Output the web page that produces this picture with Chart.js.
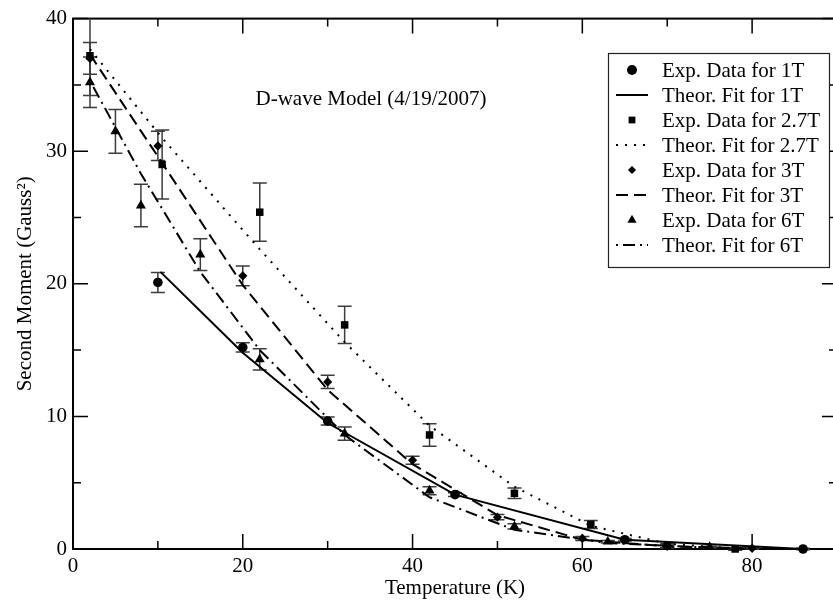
<!DOCTYPE html>
<html>
<head>
<meta charset="utf-8">
<title>Second Moment vs Temperature</title>
<script src="https://cdn.jsdelivr.net/npm/chart.js@4.4.1/dist/chart.umd.min.js"></script>
<style>
  html, body { margin: 0; padding: 0; background: #fff; overflow: hidden; }
  #wrap { width: 845px; height: 602px; }
</style>
</head>
<body>
<div id="wrap"><canvas id="momentChart" width="845" height="602"></canvas></div>
<script>
// --- data ---
const X_TICKS = [0, 20, 40, 60, 80];
const X_MINOR = [10, 30, 50, 70, 90];
const Y_TICKS = [0, 10, 20, 30, 40];
const Y_MINOR = [5, 15, 25, 35];

// 1T
const T_1T = [10, 20, 30, 45, 65, 86];
const M_1T = [20.1, 15.2, 9.65, 4.1, 0.7, 0.0];
const E_1T = [0.75, 0.35, 0.3, 0.15, 0.1, 0.05];
const FIT_T_1T = [10.3, 20, 30, 45, 65, 86];
const FIT_1T = [20.9, 14.8, 9.5, 4.1, 0.7, 0.0];

// 2.7T
const T_27T = [2, 10.5, 22, 32, 42, 52, 61, 70, 78];
const M_27T = [37.2, 29.0, 25.4, 16.9, 8.6, 4.2, 1.85, 0.25, 0.0];
const E_27T = [3.0, 2.6, 2.2, 1.4, 0.85, 0.4, 0.3, 0.15, 0.1];
const FIT_T_27T = [2, 10.5, 22, 32, 42, 52, 61, 70, 78];
const FIT_27T = [37.7, 31.0, 22.6, 15.6, 9.3, 4.7, 1.75, 0.4, 0.05];

// 3T
const T_3T = [2, 10, 20, 30, 40, 50, 60, 70, 80];
const M_3T = [37.0, 30.4, 20.6, 12.6, 6.7, 2.4, 0.8, 0.2, 0.05];
const E_3T = [1.2, 1.1, 0.75, 0.5, 0.3, 0.2, 0.15, 0.1, 0.05];
const FIT_T_3T = [2, 10, 20, 30, 40, 50, 60, 70, 80];
const FIT_3T = [37.3, 29.6, 19.9, 12.0, 6.4, 2.55, 0.7, 0.2, 0.05];

// 6T
const T_6T = [2, 5, 8, 15, 22, 32, 42, 52, 63, 75];
const M_6T = [35.2, 31.5, 25.9, 22.2, 14.3, 8.7, 4.4, 1.7, 0.55, 0.15];
const E_6T = [1.9, 1.65, 1.6, 1.2, 0.8, 0.5, 0.3, 0.2, 0.1, 0.05];
const FIT_T_6T = [2, 5, 8, 15, 22, 32, 42, 52, 63, 75];
const FIT_6T = [35.3, 31.8, 28.3, 20.9, 15.0, 8.6, 3.9, 1.45, 0.45, 0.1];

const NOTE_TEXT = 'D-wave Model (4/19/2007)';
const NOTE_AT = { x: 21.5, y: 33.9 }; // in data units

const SERIF = '"Liberation Serif", "DejaVu Serif", serif';

function pts(xs, ys) {
    return xs.map((x, i) => ({ x: x, y: ys[i] }));
}

function expSet(label, xs, ys, errs, style, radius) {
    return {
        label: label,
        data: pts(xs, ys),
        errors: errs,
        showLine: false,
        pointStyle: style,
        pointRadius: radius,
        pointBackgroundColor: '#000',
        pointBorderWidth: 0,
        clip: false
    };
}

function fitSet(label, xs, ys, dash) {
    return {
        label: label,
        data: pts(xs, ys),
        showLine: true,
        borderColor: '#000',
        borderWidth: 2,
        borderDash: dash,
        pointRadius: 0,
        tension: 0,
        clip: false
    };
}

// marker shapes, shared by legend
function drawMarker(ctx, style, cx, cy, r) {
    ctx.beginPath();
    if (style === 'circle') {
        ctx.arc(cx, cy, r, 0, Math.PI * 2);
    } else if (style === 'rect') {
        const s = r * Math.SQRT1_2;
        ctx.rect(cx - s, cy - s, 2 * s, 2 * s);
    } else if (style === 'rectRot') {
        ctx.moveTo(cx, cy - r); ctx.lineTo(cx + r, cy);
        ctx.lineTo(cx, cy + r); ctx.lineTo(cx - r, cy);
        ctx.closePath();
    } else if (style === 'triangle') {
        const h = r * Math.sqrt(3) / 2;
        ctx.moveTo(cx, cy - r); ctx.lineTo(cx + h, cy + r / 2);
        ctx.lineTo(cx - h, cy + r / 2);
        ctx.closePath();
    }
    ctx.fill();
}

// --- error bars, drawn under the markers ---
const errorBars = {
    id: 'errorBars',
    beforeDatasetsDraw(chart) {
        const { ctx, chartArea: a, scales: { x, y } } = chart;
        ctx.save();
        ctx.beginPath();
        ctx.rect(a.left, a.top, a.right - a.left, a.bottom - a.top + 2);
        ctx.clip();
        ctx.strokeStyle = '#3c3c3c';
        ctx.lineWidth = 1.5;
        chart.data.datasets.forEach(ds => {
            if (!ds.errors) return;
            ds.data.forEach((p, j) => {
                const e = ds.errors[j];
                const px = x.getPixelForValue(p.x);
                const top = y.getPixelForValue(p.y + e);
                const bot = y.getPixelForValue(p.y - e);
                ctx.beginPath();
                ctx.moveTo(px, top); ctx.lineTo(px, bot);
                ctx.moveTo(px - 7, top); ctx.lineTo(px + 7, top);
                ctx.moveTo(px - 7, bot); ctx.lineTo(px + 7, bot);
                ctx.stroke();
            });
        });
        ctx.restore();
    }
};

// --- box frame with inward ticks on all sides ---
const frameTicks = {
    id: 'frameTicks',
    beforeDatasetsDraw(chart) {
        const { ctx, chartArea: a, scales: { x, y } } = chart;
        ctx.save();
        ctx.strokeStyle = '#000';
        ctx.lineWidth = 2;
        ctx.strokeRect(a.left, a.top, a.right - a.left, a.bottom - a.top);
        ctx.lineWidth = 1.5;
        ctx.beginPath();
        const xt = (v, len) => {
            const p = x.getPixelForValue(v);
            ctx.moveTo(p, a.bottom); ctx.lineTo(p, a.bottom - len);
            ctx.moveTo(p, a.top); ctx.lineTo(p, a.top + len);
        };
        const yt = (v, len) => {
            const p = y.getPixelForValue(v);
            ctx.moveTo(a.left, p); ctx.lineTo(a.left + len, p);
            ctx.moveTo(a.right, p); ctx.lineTo(a.right - len, p);
        };
        X_TICKS.forEach(v => xt(v, 15));
        X_MINOR.forEach(v => xt(v, 8));
        Y_TICKS.forEach(v => yt(v, 15));
        Y_MINOR.forEach(v => yt(v, 8));
        ctx.stroke();
        ctx.restore();
    }
};

// --- boxed legend and the model note ---
const boxLegend = {
    id: 'boxLegend',
    afterDraw(chart) {
        const { ctx, scales: { x, y } } = chart;
        const left = 608, top = 53, w = 221, h = 214, row = 25, firstRow = 70;
        ctx.save();
        ctx.fillStyle = '#fff';
        ctx.fillRect(left, top, w, h);
        ctx.strokeStyle = '#222';
        ctx.lineWidth = 1.2;
        ctx.strokeRect(left + 0.5, top + 0.5, w, h);

        ctx.font = '21px ' + SERIF;
        ctx.textBaseline = 'middle';
        ctx.textAlign = 'left';
        chart.data.datasets.forEach((ds, i) => {
            const cy = firstRow + i * row;
            ctx.fillStyle = '#000';
            if (ds.showLine) {
                ctx.save();
                ctx.strokeStyle = '#000';
                ctx.lineWidth = 2;
                ctx.setLineDash(ds.borderDash || []);
                ctx.beginPath();
                ctx.moveTo(616, cy); ctx.lineTo(648, cy);
                ctx.stroke();
                ctx.restore();
            } else {
                drawMarker(ctx, ds.pointStyle, 632, cy, ds.pointStyle === 'circle' ? 5 : ds.pointRadius - 0.5);
            }
            ctx.fillText(ds.label, 662, cy + 1);
        });

        ctx.fillText(NOTE_TEXT, x.getPixelForValue(NOTE_AT.x), y.getPixelForValue(NOTE_AT.y));
        ctx.restore();
    }
};

const ctx = document.getElementById('momentChart').getContext('2d');
new Chart(ctx, {
    type: 'scatter',
    data: {
        datasets: [
            expSet('Exp. Data for 1T', T_1T, M_1T, E_1T, 'circle', 4.8),
            fitSet('Theor. Fit for 1T', FIT_T_1T, FIT_1T, []),
            expSet('Exp. Data for 2.7T', T_27T, M_27T, E_27T, 'rect', 5.3),
            fitSet('Theor. Fit for 2.7T', FIT_T_27T, FIT_27T, [2, 7]),
            expSet('Exp. Data for 3T', T_3T, M_3T, E_3T, 'rectRot', 4.6),
            fitSet('Theor. Fit for 3T', FIT_T_3T, FIT_3T, [12, 6]),
            expSet('Exp. Data for 6T', T_6T, M_6T, E_6T, 'triangle', 5.8),
            fitSet('Theor. Fit for 6T', FIT_T_6T, FIT_6T, [2, 5, 12, 5])
        ]
    },
    options: {
        responsive: false,
        animation: false,
        events: [],
        layout: { padding: { top: 15, right: 8, left: 0, bottom: 0 } },
        plugins: {
            legend: { display: false },
            tooltip: { enabled: false }
        },
        scales: {
            x: {
                type: 'linear',
                min: 0,
                max: 90,
                grid: { display: false, drawTicks: false },
                border: { display: false },
                afterBuildTicks: scale => { scale.ticks = X_TICKS.map(v => ({ value: v })); },
                afterFit: scale => { scale.height = 53; },
                ticks: {
                    color: '#000',
                    padding: 5,
                    maxRotation: 0,
                    font: { family: SERIF, size: 21 }
                },
                title: {
                    display: true,
                    text: 'Temperature (K)',
                    color: '#000',
                    font: { family: SERIF, size: 21 },
                    padding: { top: 0, bottom: 1 }
                }
            },
            y: {
                type: 'linear',
                min: 0,
                max: 40,
                grid: { display: false, drawTicks: false },
                border: { display: false },
                afterBuildTicks: scale => { scale.ticks = Y_TICKS.map(v => ({ value: v })); },
                afterFit: scale => { scale.width = 73; },
                ticks: {
                    color: '#000',
                    padding: 6,
                    font: { family: SERIF, size: 21 }
                },
                title: {
                    display: true,
                    text: 'Second Moment (Gauss²)',
                    color: '#000',
                    font: { family: SERIF, size: 21 },
                    padding: { top: 13, bottom: 0 }
                }
            }
        }
    },
    plugins: [frameTicks, errorBars, boxLegend]
});
</script>
</body>
</html>
